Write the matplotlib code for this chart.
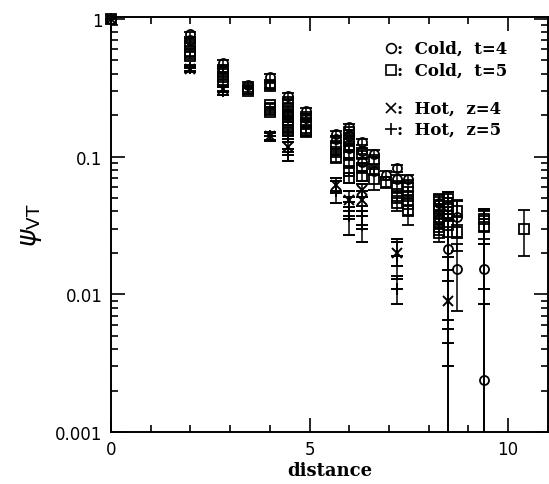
"""Wave function psi_VT vs distance, cold (t=4,5) and hot (z=4,5) lattices."""
import matplotlib

matplotlib.use("Agg")
import matplotlib.pyplot as plt  # noqa: E402
from matplotlib.ticker import FixedLocator, LogLocator, NullFormatter  # noqa: E402

# Cold, t=4 (circles)
t4_dist = [0, 2.0, 2.0, 2.83, 2.83, 3.46, 4.0, 4.0, 4.47, 4.47, 4.9, 4.9,
           5.66, 5.66, 6.0, 6.0, 6.0, 6.32, 6.32, 6.32, 6.63, 6.63, 6.93,
           7.21, 7.21, 7.48, 8.25, 8.25, 8.49, 8.49, 8.72, 8.72, 9.38, 9.38]
t4_val = [1.0, 0.77, 0.70, 0.48, 0.43, 0.33, 0.38, 0.33, 0.275, 0.20, 0.215, 0.19,
          0.145, 0.135, 0.163, 0.14, 0.115, 0.128, 0.11, 0.092, 0.105, 0.079, 0.073,
          0.082, 0.069, 0.069, 0.046, 0.035, 0.044, 0.0214, 0.0366, 0.0153, 0.0153, 0.0024]
t4_err = [0, 0.03, 0.03, 0.02, 0.02, 0.015, 0.02, 0.015, 0.012, 0.01, 0.01, 0.01,
          0.007, 0.007, 0.008, 0.007, 0.006, 0.006, 0.006, 0.005, 0.006, 0.005, 0.005,
          0.005, 0.005, 0.005, 0.005, 0.005, 0.006, 0.034, 0.011, 0.0077, 0.025, 0.039]

# Cold, t=5 (squares)
t5_dist = [0, 2.0, 2.0, 2.0, 2.83, 2.83, 2.83, 3.46, 3.46, 4.0, 4.0, 4.0, 4.0,
           4.47, 4.47, 4.47, 4.47, 4.47, 4.47, 4.9, 4.9, 4.9, 4.9, 5.66, 5.66, 5.66,
           6.0, 6.0, 6.0, 6.0, 6.0, 6.0, 6.0, 6.32, 6.32, 6.32, 6.63, 6.63, 6.93,
           7.21, 7.21, 7.21, 7.48, 7.48, 7.48, 7.48, 8.25, 8.25, 8.25, 8.25, 8.25, 8.25,
           8.49, 8.49, 8.49, 8.49, 8.72, 8.72, 9.38, 9.38, 10.39]
t5_val = [1.0, 0.66, 0.57, 0.54, 0.42, 0.38, 0.345, 0.31, 0.30, 0.325, 0.235, 0.22, 0.21,
          0.25, 0.225, 0.205, 0.185, 0.17, 0.155, 0.195, 0.175, 0.155, 0.15, 0.12, 0.108, 0.097,
          0.15, 0.13, 0.117, 0.103, 0.09, 0.078, 0.07, 0.104, 0.083, 0.072, 0.094, 0.069, 0.065,
          0.06, 0.052, 0.046, 0.06, 0.052, 0.045, 0.041, 0.049, 0.044, 0.040, 0.035, 0.031, 0.028,
          0.049, 0.044, 0.037, 0.032, 0.040, 0.0285, 0.035, 0.031, 0.030]
t5_err = [0, 0.03, 0.03, 0.03, 0.015, 0.015, 0.015, 0.015, 0.015, 0.015, 0.01, 0.01, 0.01,
          0.008, 0.008, 0.008, 0.008, 0.008, 0.008, 0.008, 0.008, 0.008, 0.008, 0.006, 0.006, 0.006,
          0.006, 0.006, 0.006, 0.006, 0.006, 0.006, 0.006, 0.006, 0.006, 0.006, 0.006, 0.012, 0.006,
          0.006, 0.006, 0.006, 0.008, 0.008, 0.008, 0.009, 0.004, 0.004, 0.004, 0.004, 0.004, 0.004,
          0.006, 0.006, 0.006, 0.006, 0.008, 0.008, 0.006, 0.006, 0.011]

# Hot, z=4 (crosses)
z4_dist = [0, 2.0, 2.83, 4.0, 4.47, 5.66, 6.0, 6.32, 6.32, 7.21, 8.49]
z4_val = [1.0, 0.43, 0.31, 0.14, 0.117, 0.062, 0.048, 0.057, 0.048, 0.020, 0.009]
z4_err = [0, 0.02, 0.015, 0.008, 0.01, 0.008, 0.008, 0.006, 0.008, 0.004, 0.006]

# Hot, z=5 (plus)
z5_dist = [0, 2.0, 2.83, 4.0, 4.47, 4.47, 5.66, 6.0, 6.0, 6.32, 6.32, 7.21, 7.21,
           8.49, 8.49, 8.49, 9.38, 9.38]
z5_val = [1.0, 0.44, 0.30, 0.14, 0.142, 0.103, 0.056, 0.043, 0.037, 0.037, 0.032, 0.019, 0.011,
          0.0125, 0.0056, 0.0044, 0.023, 0.0085]
z5_err = [0, 0.02, 0.02, 0.01, 0.008, 0.01, 0.01, 0.008, 0.01, 0.007, 0.008, 0.006, 0.0025,
          0.006, 0.03, 0.03, 0.012, 0.033]

legend_rows = [("o", ":  Cold,  t=4"), ("s", ":  Cold,  t=5"),
               ("x", ":  Hot,  z=4"), ("+", ":  Hot,  z=5")]

fig = plt.figure(figsize=(5.49, 4.85), dpi=100)
ax = fig.add_axes([0.202, 0.107, 0.796, 0.856])

common = dict(color="black", ecolor="black", elinewidth=1.1, capsize=4.5,
              capthick=1.1, linestyle="none", mec="black")
conts = [
    ax.errorbar(t4_dist, t4_val, yerr=t4_err, fmt="o", ms=6.5, mfc="none", mew=1.3, **common),
    ax.errorbar(t5_dist, t5_val, yerr=t5_err, fmt="s", ms=6.5, mfc="none", mew=1.3, **common),
    ax.errorbar(z4_dist, z4_val, yerr=z4_err, fmt="x", ms=7, mew=1.4, **common),
    ax.errorbar(z5_dist, z5_val, yerr=z5_err, fmt="+", ms=8, mew=1.4, **common),
]
# let the markers at the origin show over the spine
for c in conts:
    c[0].set_clip_on(False)

ax.set_yscale("log")
ax.set_xlim(0, 11)
ax.set_ylim(0.001, 1.03)

ax.xaxis.set_major_locator(FixedLocator([0, 5, 10]))
ax.xaxis.set_minor_locator(FixedLocator([1, 2, 3, 4, 6, 7, 8, 9, 11]))
ax.yaxis.set_major_locator(FixedLocator([0.001, 0.01, 0.1, 1]))
ax.yaxis.set_minor_locator(LogLocator(base=10, subs=range(2, 10)))
ax.yaxis.set_minor_formatter(NullFormatter())
ax.set_yticklabels(["0.001", "0.01", "0.1", "1"])
ax.set_xticklabels(["0", "5", "10"])

ax.tick_params(which="both", direction="in", top=True, right=True, width=1.2,
               labelsize=12, pad=6)
ax.tick_params(which="major", length=10)
ax.tick_params(which="minor", length=5)
for sp in ax.spines.values():
    sp.set_linewidth(1.4)

ax.set_xlabel("distance", fontsize=13, fontweight="bold", family="DejaVu Serif", labelpad=2)
ax.set_ylabel(r"$\psi_{\rm VT}$", fontsize=19, labelpad=8)

# legend drawn as symbols and text inside the axes
ys = [0.925, 0.872, 0.78, 0.729]
for (mk, label), yy in zip(legend_rows, ys):
    ax.plot([0.64], [yy], marker=mk, ms=7 if mk != "+" else 8, mfc="none", mec="black",
            mew=1.2, transform=ax.transAxes, linestyle="none")
    ax.text(0.655, yy, label, transform=ax.transAxes, va="center", ha="left",
            fontsize=12, fontweight="bold", family="DejaVu Serif")

fig.savefig("out.png", dpi=100)
